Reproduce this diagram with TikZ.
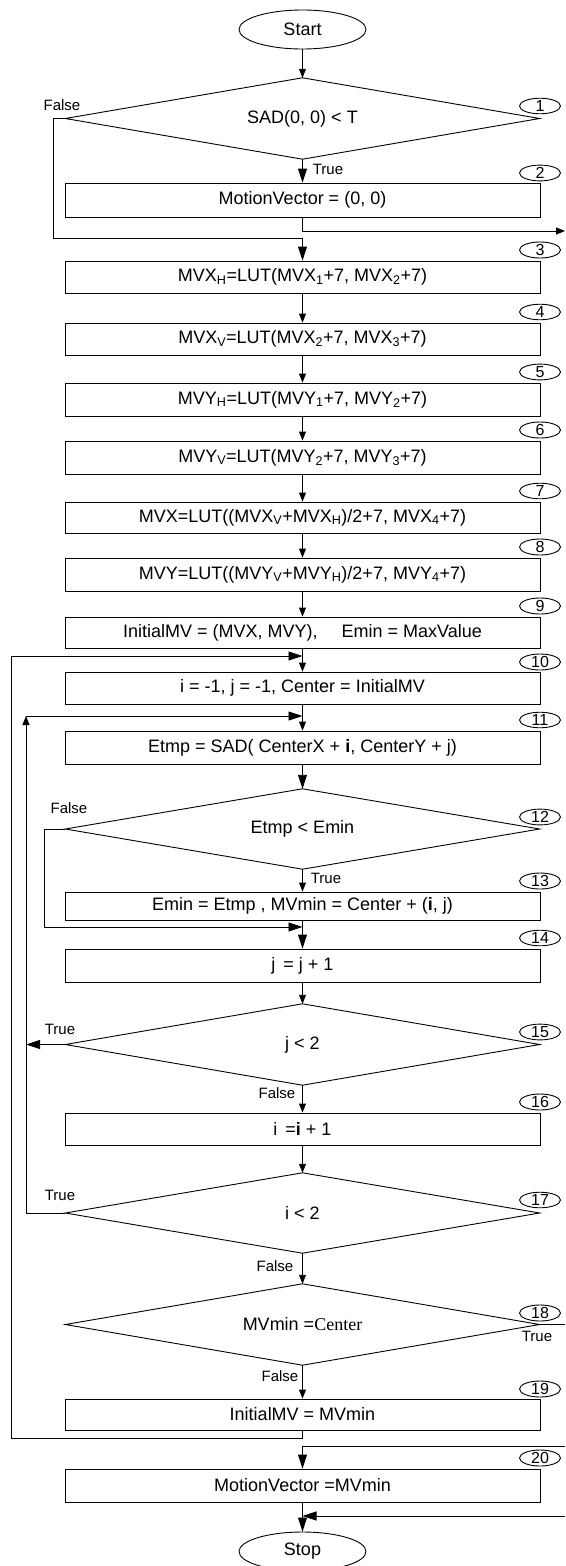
\documentclass[tikz,border=0pt]{standalone}
\usepackage{fontspec}
\setmainfont{Liberation Sans}
\newfontfamily\tnr{Liberation Serif}
\usetikzlibrary{shapes.geometric,arrows.meta}
\newcommand\sbs[1]{\textsubscript{#1}}
\newcommand\diamondoutline[1]{\draw[line width=0.9pt] (#1.north) -- (#1.east) -- (#1.south) -- (#1.west) -- cycle;}
\begin{document}
\begin{tikzpicture}[x=1pt,y=-1pt,
  box/.style={draw,line width=0.9pt,minimum width=475pt,minimum height=32pt,inner sep=0pt,font=\fontsize{18}{20}\selectfont},
  dec/.style={rectangle,minimum width=474pt,minimum height=81pt,inner sep=0pt,font=\fontsize{18}{20}\selectfont},
  term/.style={draw,ellipse,line width=0.9pt,minimum width=127pt,minimum height=39pt,inner sep=0pt,font=\fontsize{18}{20}\selectfont},
  num/.style={draw,ellipse,line width=0.9pt,minimum width=41pt,minimum height=15pt,inner sep=0pt,font=\fontsize{16}{16}\selectfont},
  lbl/.style={inner sep=0pt,font=\fontsize{15}{15}\selectfont},
  arr/.style={line width=0.9pt,-{Triangle[length=9pt,width=7pt]}},
  bigarr/.style={line width=0.9pt,-{Triangle[length=14pt,width=9pt]}},
  ln/.style={line width=0.9pt}
]
\useasboundingbox (0,0) rectangle (565,1566);

% shapes
\node[term] (start) at (302.5,29.5) {Start};
\node[dec] (d1) at (302.5,118.5) {SAD(0, 0) < T};
\node[box,minimum height=34pt] (b2) at (302.5,200) {MotionVector = (0, 0)};
\node[box] (b3) at (302.5,277) {MVX\sbs{H}=LUT(MVX\sbs{1}+7, MVX\sbs{2}+7)};
\node[box] (b4) at (302.5,339) {MVX\sbs{V}=LUT(MVX\sbs{2}+7, MVX\sbs{3}+7)};
\node[box,minimum height=33pt] (b5) at (302.5,399.5) {MVY\sbs{H}=LUT(MVY\sbs{1}+7, MVY\sbs{2}+7)};
\node[box,minimum height=33pt] (b6) at (302.5,457.5) {MVY\sbs{V}=LUT(MVY\sbs{2}+7, MVY\sbs{3}+7)};
\node[box,minimum height=31pt] (b7) at (302.5,517.5) {MVX=LUT((MVX\sbs{V}+MVX\sbs{H})/2+7, MVX\sbs{4}+7)};
\node[box,minimum height=33pt] (b8) at (302.5,574.5) {MVY=LUT((MVY\sbs{V}+MVY\sbs{H})/2+7, MVY\sbs{4}+7)};
\node[box,minimum height=31pt] (b9) at (302.5,632.5) {InitialMV = (MVX, MVY),\hspace{24pt}Emin = MaxValue};
\node[box] (b10) at (302.5,688) {i = -1, j = -1, Center = InitialMV};
\node[box,minimum height=33pt] (b11) at (302.5,747.5) {Etmp = SAD( CenterX + \textbf{i}, CenterY + j)};
\node[dec,minimum height=80pt] (d12) at (302.5,829) {Etmp < Emin};
\node[box,minimum height=28pt] (b13) at (302.5,906) {Emin = Etmp , MVmin = Center + (\textbf{i}, j)};
\node[box,minimum height=33pt] (b14) at (302.5,965.5) {j\hspace{8pt}= j + 1};
\node[dec] (d15) at (302.5,1044.5) {j < 2};
\node[box] (b16) at (302.5,1129) {i\hspace{8pt}=\textbf{i} + 1};
\node[dec,minimum height=80pt] (d17) at (302.5,1213) {i < 2};
\node[dec] (d18) at (302.5,1324.5) {MVmin =\tnr Center};
\node[box,minimum height=31pt] (b19) at (302.5,1414.5) {InitialMV = MVmin};
\node[box,minimum height=33pt] (b20) at (302.5,1485.5) {MotionVector =MVmin};
\node[term] (stop) at (302.5,1551.5) {Stop};

\diamondoutline{d1}
\diamondoutline{d12}
\diamondoutline{d15}
\diamondoutline{d17}
\diamondoutline{d18}

% step numbers
\node[num] (n1) at (540,106) {1};
\node[num] (n2) at (540,173) {2};
\node[num] (n3) at (540,250) {3};
\node[num] (n4) at (540,312) {4};
\node[num] (n5) at (540,372) {5};
\node[num] (n6) at (540,430) {6};
\node[num] (n7) at (540,491) {7};
\node[num] (n8) at (540,547) {8};
\node[num] (n9) at (540,606) {9};
\node[num] (n10) at (540,662) {10};
\node[num] (n11) at (540,720) {11};
\node[num] (n12) at (540,817) {12};
\node[num] (n13) at (540,881) {13};
\node[num] (n14) at (540,938) {14};
\node[num] (n15) at (540,1032) {15};
\node[num] (n16) at (540,1102) {16};
\node[num] (n17) at (540,1200) {17};
\node[num] (n18) at (540,1313) {18};
\node[num] (n19) at (540,1389) {19};
\node[num] (n20) at (540,1458) {20};

% branch labels
\node[lbl] (f1) at (62,105) {False};
\node[lbl] (t1) at (328,169) {True};
\node[lbl] (f12) at (69,808) {False};
\node[lbl] (t12) at (326,878) {True};
\node[lbl] (t15) at (60,1029) {True};
\node[lbl] (f15) at (277,1093) {False};
\node[lbl] (t17) at (60,1195) {True};
\node[lbl] (f17) at (275,1266) {False};
\node[lbl] (f18) at (280,1376) {False};
\node[lbl] (t18) at (537,1336) {True};

% helper coordinates
\coordinate (c1) at (53,238);
\coordinate (e1) at (565,231);
\coordinate (o1) at (11,1438);
\coordinate (o2) at (11,656);
\coordinate (m1) at (302.5,656);
\coordinate (i1) at (26,716);
\coordinate (m2) at (302.5,716);
\coordinate (i2) at (26,1044.5);
\coordinate (c12) at (44,927);
\coordinate (m3) at (302.5,927);
\coordinate (e2) at (565,1324.5);
\coordinate (e3) at (565,1446);
\coordinate (e4) at (565,1516);
\coordinate (m4) at (302.5,1516);

% connectors
\draw[arr] (start.south) -- (d1.north);
\draw[bigarr] (d1.south) -- (b2.north);
\draw[ln] (d1.west) -| (c1);
\draw[bigarr] (c1) -| (b3.north);
\draw[arr] (b2.south) |- (e1);
\draw[arr] (b3.south) -- (b4.north);
\draw[arr] (b4.south) -- (b5.north);
\draw[arr] (b5.south) -- (b6.north);
\draw[arr] (b6.south) -- (b7.north);
\draw[arr] (b7.south) -- (b8.north);
\draw[arr] (b8.south) -- (b9.north);
\draw[arr] (b9.south) -- (b10.north);
\draw[bigarr] (b19.south) |- (o1) -- (o2) -- (m1);
\draw[arr] (b10.south) -- (b11.north);
\draw[arr] (d17.west) -| (i1);
\draw[bigarr] (i1) -- (m2);
\draw[bigarr] (d15.west) -- (i2);
\draw[bigarr] (b11.south) -- (d12.north);
\draw[arr] (d12.south) -- (b13.north);
\draw[ln] (d12.west) -| (c12);
\draw[bigarr] (c12) -- (m3);
\draw[bigarr] (b13.south) -- (b14.north);
\draw[arr] (b14.south) -- (d15.north);
\draw[arr] (d15.south) -- (b16.north);
\draw[arr] (b16.south) -- (d17.north);
\draw[arr] (d17.south) -- (d18.north);
\draw[arr] (d18.south) -- (b19.north);
\draw[ln] (d18.east) -- (e2);
\draw[bigarr] (e3) -| (b20.north);
\draw[bigarr] (b20.south) -- (stop.north);
\draw[bigarr] (e4) -- (m4);
\end{tikzpicture}
\end{document}
